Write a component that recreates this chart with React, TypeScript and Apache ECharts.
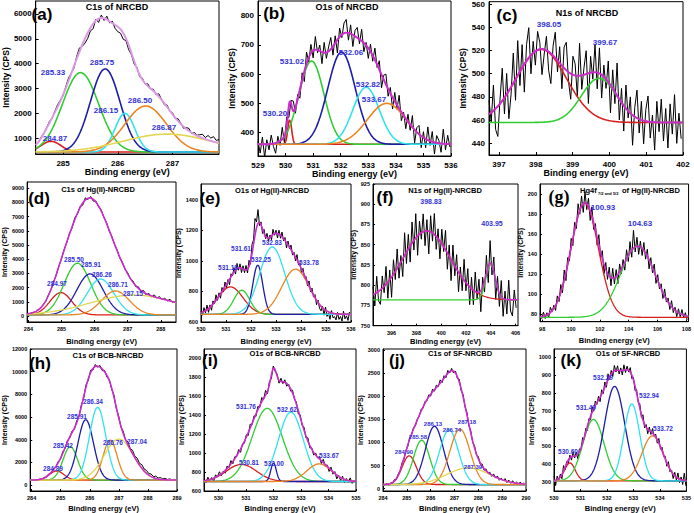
import React, { useEffect, useRef } from "react";
import * as echarts from "echarts";

const FONT = "Liberation Sans";
const RED = "#d81e1e";
const GREEN = "#30cc30";
const NAVY = "#1c1ca8";
const CYAN = "#30e2f0";
const ORANGE = "#ea8420";
const YELLOW = "#e4d650";
const MAGENTA = "#cc2ccc";
const LABEL_BLUE = "#3232d8";

// ---------------- (a) C1s of NRCBD ----------------
const aTitle = "C1s of NRCBD";
const aPeakLabels = ["284.87", "285.33", "285.75", "286.15", "286.50", "286.87"];
const aCenters = [284.78, 285.32, 285.77, 286.13, 286.51, 286.9];
const aHeights = [430, 3190, 3340, 1555, 1850, 720];
const aWidths = [0.18, 0.33, 0.27, 0.18, 0.38, 0.8];
const aBaseline = 450;
const aXTicks = [285, 286, 287];
const aYTicks = [1000, 2000, 3000, 4000, 5000, 6000];
const aRawStart = 284.5;
const aRawStep = 0.05;
const aResidual = [20, -30, 40, -10, 30, 60, -20, 50, 90, 40, -40, 60, 120, 20, -80, 100, 150, -60, -180, -220, -120, -200, 60, -150, 120, -80, 140, -60, 80, -140, -200, -160, -250, -90, -180, -60, -120, 40, -80, 60, -40, 90, -30, 70, -50, 110, 20, -60, 80, -20, 60, -40, 90, 30, -70, 50, 100, -30, 70, 20, 90, 150, 60, 180, 110, 200, 80, 140];

// ---------------- (b) O1s of NRCBD ----------------
const bTitle = "O1s of NRCBD";
const bPeakLabels = ["530.20", "531.02", "532.06", "532.82", "533.67"];
const bCenters = [530.15, 530.94, 532.03, 532.92, 533.67];
const bHeights = [85, 285, 315, 195, 140];
const bWidths = [0.07, 0.45, 0.5, 0.48, 0.7];
const bBaseline = 360;
const bXTicks = [529, 530, 531, 532, 533, 534, 535, 536];
const bYTicks = [400, 500, 600, 700, 800];
const bRawStart = 529;
const bRawStep = 0.08;
const bResidual = [10, -30, 25, -45, 15, -20, 30, -10, -35, 20, -15, 40, -25, 30, -40, 10, 35, -20, 15, -30, 25, -35, 40, -15, 30, -25, 45, -10, 20, -40, 35, -20, 15, 40, -30, 25, -45, 30, -10, 35, 45, -25, 30, -40, 20, 35, -15, 40, -30, 10, -35, 25, -20, 40, -10, 30, -45, 15, 35, -25, 20, -40, 30, -15, 45, -30, 10, -35, 25, -20, 40, -45, 15, 30, -40, 20, -30, 45, -15, 35, -40, 25, 10, -30, 50, -20, 30, -10];

// ---------------- (c) N1s of NRCBD ----------------
const cTitle = "N1s of NRCBD";
const cPeakLabels = ["398.05", "399.67"];
const cCenters = [398.15, 399.72];
const cHeights = [63, 38];
const cWidths = [0.68, 0.48];
const cBaseline = 458;
const cXTicks = [397, 398, 399, 400, 401, 402];
const cYTicks = [440, 460, 480, 500, 520, 540, 560];
const cRawStart = 396.73;
const cRawStep = 0.06;
const cResidual = [12, -8, 22, -18, -26, 4, 28, -14, 18, -24, -6, 26, -18, 30, -12, 20, -24, 14, 26, -16, 10, -12, 16, 6, -22, -4, 12, -16, -26, 8, 22, -10, 14, -20, 18, 24, -8, -22, 16, 10, -18, 28, -12, 6, 20, -26, 14, -6, 24, -14, 22, -20, 10, -8, 18, -24, 16, -10, 28, -18, 12, -22, 20, -6, 14, -26, 8, 24, -12, 16, -20, 10, 22, -14, 6, -24, 18, -8, 20, -16, 12, -22, 16, -10, 24, -18, 8, -14];

// ---------------- (d) C1s of Hg(II)-NRCBD ----------------
const dTitle = "C1s of Hg(II)-NRCBD";
const dPeakLabels = ["284.97", "285.50", "285.91", "286.26", "286.71", "287.15"];
const dCenters = [284.98, 285.48, 285.86, 286.18, 286.63, 287.18];
const dHeights = [1570, 3640, 2885, 2530, 1685, 1400];
const dWidths = [0.33, 0.4, 0.4, 0.4, 0.42, 1.3];
const dBaseline = 80;
const dXTicks = [284, 285, 286, 287, 288];
const dYTicks = [0, 1000, 2000, 3000, 4000, 5000, 6000, 7000, 8000, 9000];
const dRawStart = 283.96;
const dRawStep = 0.08;
const dResidual = [20, -30, 15, -25, 30, -10, 25, -40, 35, -20, 40, -35, 20, -50, 45, -30, 60, -80, 120, -60, 90, -140, 150, -90, 110, -120, 70, -60, 80, -40, 60, -70, 50, -30, 40, -60, 70, -50, 80, -40, 90, -70, 110, -60, 120, -90, 100, -80, 130, -50, 110, -70, 90, -40, 120, -60, 80];

// ---------------- (e) O1s of Hg(II)-NRCBD ----------------
const eTitle = "O1s of Hg(II)-NRCBD";
const ePeakLabels = ["531.18", "531.61", "532.25", "532.83", "533.78"];
const eCenters = [531.18, 531.63, 532.27, 532.85, 533.78];
const eHeights = [180, 158, 322, 441, 296];
const eWidths = [0.5, 0.32, 0.2, 0.5, 0.55];
const eBaseline = 650;
const eXTicks = [530, 531, 532, 533, 534, 535, 536];
const eYTicks = [600, 800, 1000, 1200, 1400];
const eRawStart = 530;
const eRawStep = 0.06;
const eResidual = [10, -20, 25, -15, 30, -25, 15, -30, 20, -10, 35, -15, 20, -30, 25, -20, 30, -25, 15, -35, 20, -10, 30, -25, 35, -15, 25, -30, 20, -20, 30, -25, 40, -20, 60, 30, 110, 40, 90, -20, 20, -30, 25, -15, 30, -20, 15, -25, 35, -10, 20, -30, 25, -20, 30, -15, 20, -35, 25, -10, 30, -20, 15, -25, 35, -15, 20, -30, 25, -20, 15, -25, 30, -20, 25, -15, 20, -30, 15, -25, -30, 10, -40, 20, -35, -10, -45, 15, -30, -20, -40, 10, -35, -15, -45, 20, -30, -10, -40, 15];

// ---------------- (f) N1s of Hg(II)-NRCBD ----------------
const fTitle = "N1s of Hg(II)-NRCBD";
const fPeakLabels = ["398.83", "403.95"];
const fCenters = [398.83, 403.98];
const fHeights = [85, 43];
const fWidths = [1.9, 0.38];
const fBaseline = 782;
const fXTicks = [396, 398, 400, 402, 404, 406];
const fYTicks = [750, 775, 800, 825, 850, 875, 900, 925];
const fRawStart = 394.5;
const fRawStep = 0.15;
const fResidual = [10, -15, 20, -12, -18, 15, -8, 22, -20, 12, -25, 18, -10, 24, -16, 8, -22, 28, -14, 18, -20, 26, -12, 30, -24, 16, -8, 22, -18, 14, -28, 20, -10, 26, -16, 12, -22, 18, -6, 24, -20, 14, -26, 22, -12, 18, -24, 10, -16, 26, -10, 20, -22, 14, -18, 24, -8, 16, -26, 12, -14, 22, -20, 28, -12, 18, -24, 14, -16, 20, -22, 10, -18, 24, -14, -20, 12, -10];

// ---------------- (g) Hg4f of Hg(II)-NRCBD ----------------
const gTitleMain = "Hg4f";
const gTitleSub = "7/2 and 5/2";
const gTitleRest = "of Hg(II)-NRCBD";
const gPeakLabels = ["100.93", "104.63"];
const gCenters = [100.95, 104.63];
const gHeights = [114, 71];
const gWidths = [0.95, 1.2];
const gBaseline = 77;
const gXTicks = [98, 100, 102, 104, 106, 108];
const gYTicks = [80, 100, 120, 140, 160, 180, 200];
const gRawStart = 97.85;
const gRawStep = 0.12;
const gResidual = [3, -2, 4, -3, 2, -4, 5, -1, 3, -5, 6, -4, 8, -6, 10, -8, 7, -5, 9, -7, 8, -6, 12, -4, 10, -9, 11, -6, 8, -10, 9, -7, 6, -8, 10, -5, 8, -9, 7, -6, 9, -8, 10, -6, 7, -9, 8, -5, 6, -8, 9, -6, 11, -7, 18, -5, 9, -8, 6, -7, 8, -6, 7, -9, 6, -5, 8, -7, 6, -4, 5, -6, 7, -3, 4, -5, 6, -4, 3, -5, 4, -3, 5, -2, 3, -4];

// ---------------- (h) C1s of BCB-NRCBD ----------------
const hTitle = "C1s of BCB-NRCBD";
const hPeakLabels = ["284.89", "285.42", "285.91", "286.34", "286.76", "287.04"];
const hCenters = [284.86, 285.33, 285.86, 286.27, 286.7, 287.0];
const hHeights = [800, 2950, 5320, 6410, 3520, 3610];
const hWidths = [0.25, 0.25, 0.27, 0.28, 0.24, 0.5];
const hBaseline = 450;
const hXTicks = [284, 285, 286, 287, 288, 289];
const hYTicks = [0, 2000, 4000, 6000, 8000, 10000, 12000];
const hRawStart = 283.95;
const hRawStep = 0.08;
const hResidual = [30, -40, 20, -30, 40, -20, 30, -50, 60, -40, 80, -60, 100, -80, 120, -90, 150, -100, 130, -120, 160, -110, 140, -150, 180, -120, 200, -140, 160, -100, 150, -130, 120, -160, 140, -90, 180, -110, 150, -80, 200, -60, 250, 60, 280, 120, 300, 150, 320, 180, 260, 140, 220, 90, 200, 80, 160, 60, 120, 40, 90, 30, 60];

// ---------------- (i) O1s of BCB-NRCBD ----------------
const iTitle = "O1s of BCB-NRCBD";
const iPeakLabels = ["530.81", "531.76", "532.00", "532.62", "533.67"];
const iCenters = [530.83, 531.77, 532.0, 532.63, 533.66];
const iHeights = [180, 770, 195, 730, 185];
const iWidths = [0.55, 0.55, 0.1, 0.45, 0.45];
const iBaseline = 700;
const iXTicks = [530, 531, 532, 533, 534, 535];
const iYTicks = [600, 800, 1000, 1200, 1400, 1600, 1800, 2000];
const iRawStart = 529.47;
const iRawStep = 0.07;
const iResidual = [20, -25, 30, -10, 15, -30, 25, -5, 35, -20, 10, -30, 25, -15, 35, -25, 20, -10, 30, -35, 15, -20, 25, -30, 40, -15, 30, -25, 35, -20, 45, -10, 50, -25, 30, -35, 25, -15, 20, -30, 35, -20, 25, -30, 15, -25, 30, -10, 20, -35, 25, -15, 30, -20, 35, -25, 15, -30, 20, -10, 25, -30, 35, -20, 15, -35, 30, -25, 20, -40, 10, -30, 25, -35, 15, -20, 30, -25, 10];

// ---------------- (j) C1s of SF-NRCBD ----------------
const jTitle = "C1s of SF-NRCBD";
const jPeakLabels = ["284.90", "285.58", "286.13", "286.74", "287.18", "287.39"];
const jCenters = [285.1, 285.62, 286.16, 286.77, 287.23, 287.58];
const jHeights = [620, 960, 1260, 1180, 1200, 360];
const jWidths = [0.3, 0.34, 0.38, 0.4, 0.42, 0.9];
const jBaseline = 90;
const jXTicks = [284, 285, 286, 287, 288, 289, 290];
const jYTicks = [0, 500, 1000, 1500, 2000, 2500, 3000];
const jRawStart = 284;
const jRawStep = 0.08;
const jResidual = [20, -15, 25, -30, 15, -20, 30, -25, 20, -10, 35, -25, 20, -30, 40, -20, 30, -35, 25, -15, 40, -30, 35, -25, 45, -40, 60, -35, 50, -30, 70, -40, 55, -45, 65, -30, 50, -40, 45, -35, 60, -45, 50, -30, 55, -40, 45, -35, 40, -25, 50, -30, 45, -35, 40, -20, 35, -30, 45, -25, 40, -35, 30, -20, 45, -30, 35, -25, 40, -20, 30, -25, 35, -15, 25];

// ---------------- (k) O1s of SF-NRCBD ----------------
const kTitle = "O1s of SF-NRCBD";
const kPeakLabels = ["530.60", "531.49", "532.29", "532.94", "533.72"];
const kCenters = [530.6, 531.49, 532.29, 532.94, 533.72];
const kHeights = [100, 343, 528, 430, 252];
const kWidths = [0.2, 0.4, 0.38, 0.3, 0.4];
const kBaseline = 308;
const kXTicks = [530, 531, 532, 533, 534, 535];
const kYTicks = [300, 400, 500, 600, 700, 800, 900, 1000];
const kRawStart = 530;
const kRawStep = 0.06;
const kResidual = [25, -30, 20, -10, 15, -25, 30, -15, 10, -20, 15, -20, 25, -10, 20, -25, 15, -15, 30, -10, 20, -25, 15, -20, 30, -15, 25, -10, 20, -25, 25, -15, 30, -20, 35, -15, 20, -25, 30, -10, 25, -20, 15, -25, 30, -15, 20, -10, 25, -20, 15, -25, 20, -10, 25, -15, 30, -20, 15, -25, 20, -15, 25, -10, 15, -20, 25, -15, 20, -10, 15, -20, 25, -15, 10, -25, 20, -15, 30, -20, 15, -25, 40, -30];

const C6 = [RED, GREEN, NAVY, CYAN, ORANGE, YELLOW];
const C5 = [RED, GREEN, NAVY, CYAN, ORANGE];
const C2 = [RED, GREEN];

type Panel = {
  title: string | null;
  letter: string;
  labels: string[];
  centers: number[];
  heights: number[];
  widths: number[];
  base: number;
  colors: string[];
  rawStart: number;
  rawStep: number;
  residual: number[];
  xTicks: number[];
  yTicks: number[];
  box: number[];
  x: number[];
  y: number[];
  titlePos: number[];
  letterPos: number[];
  labelPos: number[][];
  yNameGap: number;
  xNameGap: number;
  big: boolean;
  env: string;
  labelSize: number;
  serifLetter?: boolean;
};

const PANELS: Panel[] = [
  {
    title: aTitle, letter: "(a)", labels: aPeakLabels, centers: aCenters, heights: aHeights, widths: aWidths, base: aBaseline, colors: C6,
    rawStart: aRawStart, rawStep: aRawStep, residual: aResidual, xTicks: aXTicks, yTicks: aYTicks,
    box: [28, 1, 191, 153], x: [284.5, 287.85], y: [370, 6520], titlePos: [117, 7], letterPos: [42, 14],
    labelPos: [[55, 138], [53, 72], [102, 62], [106, 110], [140, 100], [164, 127]],
    yNameGap: 22, xNameGap: 13, big: true, env: "#dc98e4", labelSize: 8,
  },
  {
    title: bTitle, letter: "(b)", labels: bPeakLabels, centers: bCenters, heights: bHeights, widths: bWidths, base: bBaseline, colors: C5,
    rawStart: bRawStart, rawStep: bRawStep, residual: bResidual, xTicks: bXTicks, yTicks: bYTicks,
    box: [258, 1, 193, 155], x: [529, 536], y: [320, 850], titlePos: [347, 7], letterPos: [274, 13],
    labelPos: [[275, 113], [292, 61], [351, 52], [368, 84], [374, 99]],
    yNameGap: 21, xNameGap: 12, big: true, env: MAGENTA, labelSize: 8,
  },
  {
    title: cTitle, letter: "(c)", labels: cPeakLabels, centers: cCenters, heights: cHeights, widths: cWidths, base: cBaseline, colors: C2,
    rawStart: cRawStart, rawStep: cRawStep, residual: cResidual, xTicks: cXTicks, yTicks: cYTicks,
    box: [489, 0, 194, 155], x: [396.73, 402], y: [430, 562], titlePos: [587, 13], letterPos: [507, 15],
    labelPos: [[549, 24], [605, 42]],
    yNameGap: 20, xNameGap: 12, big: true, env: MAGENTA, labelSize: 8,
  },
  {
    title: dTitle, letter: "(d)", labels: dPeakLabels, centers: dCenters, heights: dHeights, widths: dWidths, base: dBaseline, colors: C6,
    rawStart: dRawStart, rawStep: dRawStep, residual: dResidual, xTicks: dXTicks, yTicks: dYTicks,
    box: [26, 182, 150, 140], x: [283.96, 288.46], y: [-420, 9440], titlePos: [98, 189], letterPos: [39, 198],
    labelPos: [[57, 283], [74, 259], [91, 264], [102, 274], [118, 284], [133, 293]],
    yNameGap: 18, xNameGap: 15, big: false, env: MAGENTA, labelSize: 6.5,
  },
  {
    title: eTitle, letter: "(e)", labels: ePeakLabels, centers: eCenters, heights: eHeights, widths: eWidths, base: eBaseline, colors: C5,
    rawStart: eRawStart, rawStep: eRawStep, residual: eResidual, xTicks: eXTicks, yTicks: eYTicks,
    box: [201, 184, 150, 138], x: [530, 536], y: [600, 1503], titlePos: [272, 190], letterPos: [210, 198],
    labelPos: [[228, 267], [241, 248], [261, 259], [272, 242], [309, 262]],
    yNameGap: 16, xNameGap: 15, big: false, env: MAGENTA, labelSize: 6.5,
  },
  {
    title: fTitle, letter: "(f)", labels: fPeakLabels, centers: fCenters, heights: fHeights, widths: fWidths, base: fBaseline, colors: C2,
    rawStart: fRawStart, rawStep: fRawStep, residual: fResidual, xTicks: fXTicks, yTicks: fYTicks,
    box: [373, 184, 145, 141.7], x: [394.5, 406.2], y: [750, 925], titlePos: [445, 190], letterPos: [385, 197],
    labelPos: [[431, 201], [492, 223]],
    yNameGap: 15, xNameGap: 12, big: false, env: MAGENTA, labelSize: 7,
  },
  {
    title: null, letter: "(g)", labels: gPeakLabels, centers: gCenters, heights: gHeights, widths: gWidths, base: gBaseline, colors: C2,
    rawStart: gRawStart, rawStep: gRawStep, residual: gResidual, xTicks: gXTicks, yTicks: gYTicks,
    box: [540, 184, 149, 137.7], x: [97.85, 108.15], y: [72.6, 210.3], titlePos: [616, 190], letterPos: [559, 197],
    labelPos: [[603, 207], [640, 223]],
    yNameGap: 11, xNameGap: 15, big: false, env: MAGENTA, labelSize: 8, serifLetter: true,
  },
  {
    title: hTitle, letter: "(h)", labels: hPeakLabels, centers: hCenters, heights: hHeights, widths: hWidths, base: hBaseline, colors: C6,
    rawStart: hRawStart, rawStep: hRawStep, residual: hResidual, xTicks: hXTicks, yTicks: hYTicks,
    box: [21, 349, 156, 146], x: [283.95, 289], y: [-514, 12000], titlePos: [108, 355], letterPos: [40, 363],
    labelPos: [[53, 468], [63, 445], [77, 416], [93, 401], [113, 442], [137, 441]],
    yNameGap: 16, xNameGap: 13, big: false, env: MAGENTA, labelSize: 6.5,
  },
  {
    title: iTitle, letter: "(i)", labels: iPeakLabels, centers: iCenters, heights: iHeights, widths: iWidths, base: iBaseline, colors: C5,
    rawStart: iRawStart, rawStep: iRawStep, residual: iResidual, xTicks: iXTicks, yTicks: iYTicks,
    box: [204, 349, 152, 146], x: [529.47, 535], y: [600, 2095], titlePos: [285, 353], letterPos: [210, 360],
    labelPos: [[249, 462], [246, 406], [274, 463], [287, 409], [329, 455]],
    yNameGap: 17, xNameGap: 13, big: false, env: MAGENTA, labelSize: 6.5,
  },
  {
    title: jTitle, letter: "(j)", labels: jPeakLabels, centers: jCenters, heights: jHeights, widths: jWidths, base: jBaseline, colors: C6,
    rawStart: jRawStart, rawStep: jRawStep, residual: jResidual, xTicks: jXTicks, yTicks: jYTicks,
    box: [383, 349, 143, 146], x: [284, 290], y: [-50, 3021], titlePos: [460, 353], letterPos: [397, 360],
    labelPos: [[404, 452], [418, 437], [433, 424], [452, 430], [467, 422], [473, 467]],
    yNameGap: 18, xNameGap: 13, big: false, env: MAGENTA, labelSize: 6,
  },
  {
    title: kTitle, letter: "(k)", labels: kPeakLabels, centers: kCenters, heights: kHeights, widths: kWidths, base: kBaseline, colors: C5,
    rawStart: kRawStart, rawStep: kRawStep, residual: kResidual, xTicks: kXTicks, yTicks: kYTicks,
    box: [554, 349, 135, 146], x: [530, 535], y: [251, 1045], titlePos: [628, 353], letterPos: [571, 360],
    labelPos: [[568, 451], [586, 407], [603, 377], [649, 395], [663, 428]],
    yNameGap: 13, xNameGap: 13, big: false, env: MAGENTA, labelSize: 6.5,
  },
];

const gauss = (x: number, c: number, h: number, s: number) => h * Math.exp(-((x - c) * (x - c)) / (2 * s * s));

function textEl(x: number, y: number, text: string, font: string, fill: string, align = "center") {
  return {
    type: "text",
    x,
    y,
    z: 100,
    silent: true,
    style: { text, font, fill, align, verticalAlign: "middle", textAlign: align, textVerticalAlign: "middle" },
  };
}

function buildOption() {
  const grid: any[] = [];
  const xAxis: any[] = [];
  const yAxis: any[] = [];
  const series: any[] = [];
  const elements: any[] = [];

  PANELS.forEach((p, i) => {
    const big = p.big;
    const tickFont = big ? 8 : 5.5;
    grid.push({
      left: p.box[0], top: p.box[1], width: p.box[2], height: p.box[3],
      show: true, borderColor: "#000", borderWidth: 1, backgroundColor: "transparent",
    });
    const axisCommon = {
      type: "value",
      gridIndex: i,
      splitLine: { show: false },
      axisLine: { show: true, onZero: false, lineStyle: { color: "#000", width: 1 } },
    };
    xAxis.push({
      ...axisCommon,
      min: p.x[0],
      max: p.x[1],
      axisTick: { show: true, inside: true, length: big ? 3 : 2, customValues: p.xTicks, lineStyle: { color: "#000" } },
      axisLabel: {
        show: true, customValues: p.xTicks, formatter: (v: number) => String(v),
        fontSize: tickFont, fontWeight: "bold", color: "#000", fontFamily: FONT, margin: big ? 5 : 4,
      },
      name: "Binding energy (eV)",
      nameLocation: "middle",
      nameGap: p.xNameGap,
      nameTextStyle: { fontSize: big ? 9 : 7.5, fontWeight: "bold", color: "#000", fontFamily: FONT },
    });
    yAxis.push({
      ...axisCommon,
      min: p.y[0],
      max: p.y[1],
      axisTick: { show: true, inside: true, length: big ? 3 : 2, customValues: p.yTicks, lineStyle: { color: "#000" } },
      axisLabel: {
        show: true, customValues: p.yTicks, formatter: (v: number) => String(v),
        fontSize: tickFont, fontWeight: "bold", color: "#000", fontFamily: FONT, margin: big ? 4 : 3,
      },
      name: "Intensity (CPS)",
      nameLocation: "middle",
      nameGap: p.yNameGap,
      nameTextStyle: { fontSize: big ? 8.5 : 7, fontWeight: "bold", color: "#000", fontFamily: FONT },
    });

    const env = (x: number) =>
      p.base + p.centers.reduce((s, c, k) => s + gauss(x, c, p.heights[k], p.widths[k]), 0);
    const n = 320;
    const xs: number[] = [];
    for (let k = 0; k <= n; k++) xs.push(p.x[0] + ((p.x[1] - p.x[0]) * k) / n);

    const lineBase = {
      type: "line",
      xAxisIndex: i,
      yAxisIndex: i,
      showSymbol: false,
      symbol: "none",
      clip: true,
      silent: true,
      animation: false,
    };

    series.push({
      ...lineBase,
      data: p.residual.map((r, k) => {
        const x = p.rawStart + k * p.rawStep;
        return [x, env(x) + r];
      }),
      lineStyle: { color: "#000", width: 1 },
      z: 2,
    });
    p.centers.forEach((c, k) => {
      series.push({
        ...lineBase,
        data: xs.map((x) => [x, p.base + gauss(x, c, p.heights[k], p.widths[k])]),
        lineStyle: { color: p.colors[k], width: big ? 1.6 : 1.3 },
        z: 3,
      });
    });
    series.push({
      ...lineBase,
      data: xs.map((x) => [x, env(x)]),
      lineStyle: { color: p.env, width: big ? 2 : 1.6 },
      z: 4,
    });

    if (p.title) {
      elements.push(textEl(p.titlePos[0], p.titlePos[1], p.title, `bold ${big ? 9 : 7.5}px "${FONT}"`, "#000"));
    }
    elements.push(
      textEl(
        p.letterPos[0], p.letterPos[1], p.letter,
        p.serifLetter ? `bold 18px "Liberation Serif"` : `bold 17px "${FONT}"`, "#000"
      )
    );
    p.labels.forEach((lab, k) => {
      const pos = p.labelPos[k];
      elements.push(textEl(pos[0], pos[1], lab, `bold ${p.labelSize}px "${FONT}"`, LABEL_BLUE));
    });
  });

  // (g) title with subscript
  elements.push(textEl(580, 190, gTitleMain, `bold 7.5px "${FONT}"`, "#000", "left"));
  elements.push(textEl(598, 193, gTitleSub, `bold 4px "${FONT}"`, "#000", "left"));
  elements.push(textEl(622, 190, gTitleRest, `bold 7.5px "${FONT}"`, "#000", "left"));

  return {
    animation: false,
    backgroundColor: "#fff",
    grid,
    xAxis,
    yAxis,
    series,
    graphic: { elements },
  };
}

export default function App() {
  const ref = useRef<HTMLDivElement>(null);
  useEffect(() => {
    if (!ref.current) return;
    const chart = echarts.init(ref.current, undefined, { renderer: "svg" });
    chart.setOption(buildOption() as any);
    return () => chart.dispose();
  }, []);
  return (
    <div
      ref={ref}
      style={{ position: "absolute", left: 0, top: 0, width: 694, height: 513, background: "#fff" }}
    />
  );
}
